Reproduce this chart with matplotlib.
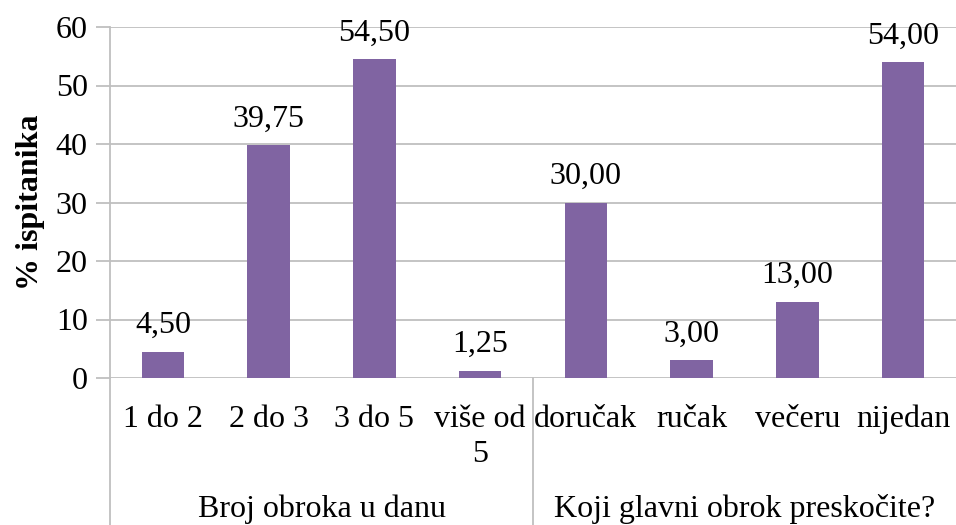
import matplotlib
matplotlib.use("Agg")
import matplotlib.pyplot as plt
from matplotlib.lines import Line2D

categories = ["1 do 2", "2 do 3", "3 do 5", "više od\n5", "doručak", "ručak", "večeru", "nijedan"]
values = [4.50, 39.75, 54.50, 1.25, 30.00, 3.00, 13.00, 54.00]
groups = ["Broj obroka u danu", "Koji glavni obrok preskočite?"]
group_sizes = [4, 4]
yticks = [0, 10, 20, 30, 40, 50, 60]
ylabel = "% ispitanika"

plt.rcParams['font.family'] = ['Liberation Serif', 'DejaVu Serif']
FS = 23
GRID = "#BFBFBF"
BAR = "#8064A2"

W, H = 956, 525
fig = plt.figure(figsize=(W / 100, H / 100), dpi=100)
L, R, T, B = 110, 956, 27, 378
ax = fig.add_axes([L / W, (H - B) / H, (R - L) / W, (B - T) / H])

x = list(range(len(categories)))
ax.bar(x, values, width=0.4, color=BAR, zorder=3)
ax.set_xlim(-0.5, len(categories) - 0.5)
ax.set_ylim(0, 60)
ax.set_yticks(yticks)
ax.set_yticklabels([str(t) for t in yticks], fontsize=FS)
ax.yaxis.grid(True, color=GRID, linewidth=1.3, zorder=0)
ax.tick_params(axis='y', length=10, width=1.3, color=GRID, pad=6)
ax.set_xticks(x)
ax.set_xticklabels([])
ax.tick_params(axis='x', length=0)
for s in ["top", "right", "bottom"]:
    ax.spines[s].set_visible(False)
ax.spines["left"].set_color(GRID)
ax.spines["left"].set_linewidth(1.3)

trans = ax.get_xaxis_transform()
def fy(py):
    return -(py - B) / (B - T)

# category labels, baseline aligned
for xi, c in zip(x, categories):
    for k, line in enumerate(c.split("\n")):
        ax.text(xi, fy(427 + 35 * k), line, transform=trans, ha="center",
                va="baseline", fontsize=FS)

for xi, v in zip(x, values):
    ax.annotate(f"{v:.2f}".replace(".", ","), (xi, v), xytext=(0, 13.5),
                textcoords="offset points", ha="center", va="baseline", fontsize=FS)

ax.set_ylabel(ylabel, fontsize=FS, fontweight="bold", labelpad=8)

# group separators and labels
start = 0
bounds = [-0.5]
for gs in group_sizes:
    start += gs
    bounds.append(start - 0.5)
for b in bounds[:-1]:
    ax.add_line(Line2D([b, b], [0, fy(H)], transform=trans, color=GRID,
                       linewidth=1.3, clip_on=False))
for i, g in enumerate(groups):
    c = (bounds[i] + bounds[i + 1]) / 2
    ax.text(c, fy(517), g, transform=trans, ha="center", va="baseline", fontsize=FS)

fig.savefig("out.png", dpi=100)
